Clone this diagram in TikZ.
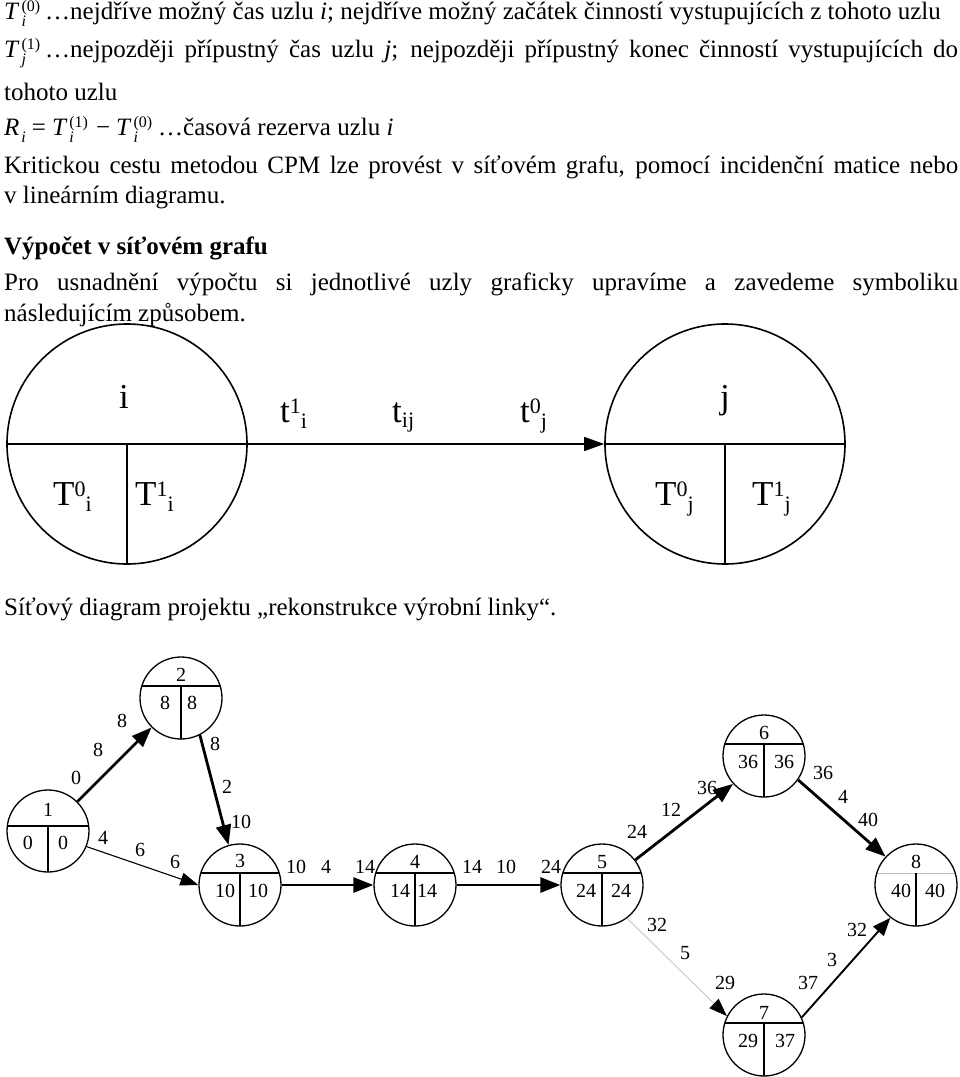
\documentclass[tikz,border=0pt]{standalone}
\usepackage{fontspec}
\setmainfont{Liberation Serif}
\usepackage{amsmath}
\usetikzlibrary{
  arrows.meta,
  positioning,
  calc
}
\newcommand{\Tvar}[2]{\textit{T}\kern2pt\rlap{\raisebox{-7pt}{\fontsize{16}{16}\selectfont\itshape #1}}\raisebox{8pt}{\fontsize{16}{16}\selectfont (#2)}}
\newcommand{\indx}[3]{#1\raisebox{9pt}{\fontsize{22}{22}\selectfont #2}\raisebox{-6pt}{\fontsize{22}{22}\selectfont #3}}
\tikzset{
  radek/.style={anchor=base west, inner sep=0pt, font=\fontsize{25}{30}\selectfont},
  velkytext/.style={anchor=base west, inner sep=0pt, font=\fontsize{35}{35}\selectfont},
  hodnota/.style={inner sep=0pt, font=\fontsize{20}{20}\selectfont},
  hdelic/.style={},
  uzel/.style={
    circle, draw, line width=1.3pt, minimum size=82pt, inner sep=0pt,
    path picture={
      \draw[line width=1.2pt, hdelic] ([yshift=#1]path picture bounding box.west) -- ([yshift=#1]path picture bounding box.east);
      \draw[line width=1.2pt] ([yshift=#1]path picture bounding box.center) -- (path picture bounding box.south);
    }
  },
  uzel/.default=12pt,
  velky/.style={
    circle, draw, line width=1.6pt, minimum size=240pt, inner sep=0pt,
    path picture={
      \draw[line width=1.4pt] (path picture bounding box.west) -- (path picture bounding box.east);
      \draw[line width=1.4pt] (path picture bounding box.center) -- (path picture bounding box.south);
    }
  },
  sipka/.style={line width=1.3pt, -{Triangle[length=20pt, width=14pt]}},
  krit/.style={line width=2.8pt, -{Triangle[length=20pt, width=15pt]}},
  stredni/.style={line width=1.9pt, -{Triangle[length=18pt, width=14pt]}},
  tenka/.style={line width=1.1pt, -{Triangle[length=18pt, width=13pt]}},
  seda/.style={draw=gray!45, line width=0.9pt, -{Triangle[length=18pt, width=13pt, color=black]}}
}
\begin{document}
\begin{tikzpicture}[x=1pt, y=-1pt]
  \useasboundingbox (0,0) rectangle (960,1077);
  % text above
  \node[radek] (r1) at (4,19) {\Tvar{i}{0}\kern5pt…nejdříve možný čas uzlu \textit{i}; nejdříve možný začátek činností vystupujících z tohoto uzlu};
  \node[radek] (r2) at (4,57) {\hbox to 954pt{\Tvar{j}{1}\kern5pt…nejpozději přípustný čas uzlu \textit{j}; nejpozději přípustný konec činností vystupujících do}};
  \node[radek] (r3) at (4,100) {tohoto uzlu};
  \node[radek] (r4) at (4,135) {\textit{R}\kern2pt\raisebox{-7pt}{\fontsize{16}{16}\selectfont\itshape i}\kern6pt=\kern6pt\Tvar{i}{1}\kern8pt−\kern6pt\Tvar{i}{0}\kern6pt…časová rezerva uzlu \textit{i}};
  \node[radek] (r5) at (4,173) {\hbox to 954pt{Kritickou cestu metodou CPM lze provést v síťovém grafu, pomocí incidenční matice nebo}};
  \node[radek] (r6) at (4,203) {v lineárním diagramu.};
  \node[radek, font=\fontsize{25}{30}\selectfont\bfseries] (r7) at (4,254) {Výpočet v síťovém grafu};
  \node[radek] (r8) at (4,290) {\hbox to 954pt{Pro usnadnění výpočtu si jednotlivé uzly graficky upravíme a zavedeme symboliku}};
  \node[radek] (r9) at (4,321) {následujícím způsobem.};
  % symbolika uzlu
  \node[velky] (ui) at (127,444) {};
  \node[velky] (uj) at (725,444) {};
  \draw[sipka] (ui.east) -- (uj.west);
  \node[velkytext, anchor=base] (ui-c) at (124,408) {i};
  \node[velkytext] (ui-l) at (53,505) {\indx{T}{0}{i}};
  \node[velkytext] (ui-r) at (135,505) {\indx{T}{1}{i}};
  \node[velkytext, anchor=base] (uj-c) at (725,408) {j};
  \node[velkytext] (uj-l) at (655,505) {\indx{T}{0}{j}};
  \node[velkytext] (uj-r) at (752,505) {\indx{T}{1}{j}};
  \node[velkytext] (t1i) at (280,422) {\indx{t}{1}{i}};
  \node[velkytext] (tij) at (392,422) {t\raisebox{-5pt}{\fontsize{22}{22}\selectfont ij}};
  \node[velkytext] (t0j) at (520,422) {\indx{t}{0}{j}};
  \node[radek] (r10) at (4,615) {Síťový diagram projektu „rekonstrukce výrobní linky“.};
  % sitovy graf
  \node[uzel=5pt] (n1) at (48,831) {};
  \node[uzel] (n2) at (181,698) {};
  \node[uzel] (n3) at (240,885) {};
  \node[uzel] (n4) at (415,885) {};
  \node[uzel] (n5) at (602,885) {};
  \node[uzel] (n6) at (764,756) {};
  \node[uzel] (n7) at (764,1035) {};
  \node[uzel, hdelic/.style={draw=gray!50, line width=0.6pt}] (n8) at (916,885) {};
  \foreach \n/\a/\b/\c/\dl/\dr/\dt/\db in {1/1/0/0/-20/15/-21/12, 2/2/8/8/-16/11/-23/5,
      3/3/10/10/-15/18/-24/6, 4/4/14/14/-15/12/-23/6, 5/5/24/24/-16/19/-23/6,
      6/6/36/36/-16/20/-23/6, 7/7/29/37/-16/21/-22/6, 8/8/40/40/-15/19/-23/6} {
    \node[hodnota] (n\n-c) at ($(n\n)+(0,\dt)$) {\a};
    \node[hodnota] (n\n-l) at ($(n\n)+(\dl,\db)$) {\b};
    \node[hodnota] (n\n-r) at ($(n\n)+(\dr,\db)$) {\c};
  }
  \draw[krit] (n1) -- (n2);
  \draw[krit] (n2.297) -- (n3.106);
  \draw[tenka] (n1.338) -- (n3.west);
  \draw[krit] (n3) -- (n4);
  \draw[krit] (n4) -- (n5);
  \draw[krit] (n5.37) -- (n6.222);
  \draw[krit] (n6.325) -- (n8.137);
  \draw[seda] (n5.307) -- (n7.153);
  \draw[stredni] (n7.25) -- (n8.232);
  \foreach \x/\y/\t [count=\k] in {76/778/0, 98/750/8, 122/721/8, 103/838/4, 140/850/6, 175/862/6,
      215/744/8, 227/787/2, 241/822/10, 296/867/10, 326/867/4, 365/867/14,
      472/867/14, 506/867/10, 551/867/24, 637/832/24, 671/810/12, 707/788/36,
      823/773/36, 843/797/4, 868/820/40, 657/925/32, 685/953/5, 725/983/29,
      808/983/37, 832/960/3, 857/930/32}
    \node[hodnota] (h\k) at (\x,\y) {\t};
\end{tikzpicture}
\end{document}
